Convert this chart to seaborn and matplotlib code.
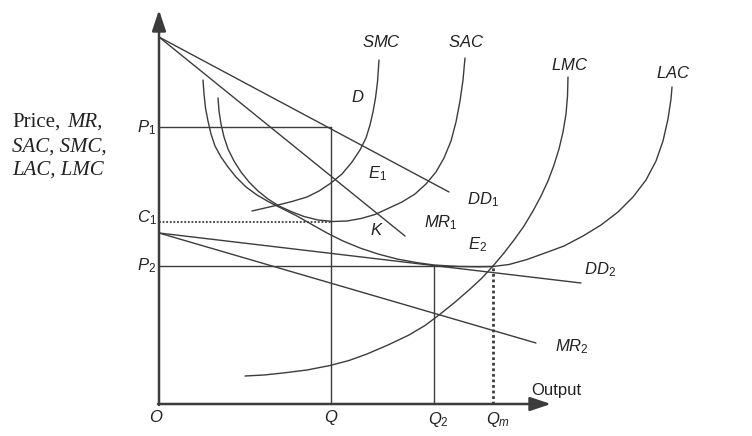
import matplotlib
matplotlib.use("Agg")
import matplotlib.pyplot as plt
import seaborn as sns

# quantities on the output axis
q1 = 17.2
q2 = 27.5
qm = 33.4

# price levels
p1 = 27.7
c1 = 18.2
p2 = 13.85

# demand / marginal revenue lines (end points)
dd1_x = [0, 29.0]
dd1_y = [36.7, 21.2]
mr1_x = [0, 24.6]
mr1_y = [36.7, 16.8]
dd2_x = [0, 42.2]
dd2_y = [17.1, 12.1]
mr2_x = [0, 37.7]
mr2_y = [17.1, 6.1]

# cost curves
sac_x = [5.9, 6.0, 6.2, 6.5, 6.9, 7.5, 8.2, 9.0, 9.9, 10.9, 12.0, 13.2, 14.5, 15.9, 17.4,
         18.8, 20.2, 21.6, 22.9, 24.3, 25.6, 26.7, 27.7, 28.5, 29.2, 29.7, 30.1, 30.4, 30.6]
sac_y = [30.6, 29.3, 28.0, 26.7, 25.5, 24.3, 23.2, 22.2, 21.3, 20.5, 19.8, 19.25, 18.75, 18.4, 18.25,
         18.3, 18.55, 18.95, 19.55, 20.2, 21.0, 22.0, 23.2, 24.6, 26.3, 28.2, 30.3, 32.4, 34.6]

smc_x = [9.3, 10.6, 11.9, 13.3, 14.8, 16.0, 17.2, 18.3, 19.3, 20.1, 20.7, 21.1, 21.4, 21.65, 21.85, 22.0]
smc_y = [19.3, 19.6, 19.9, 20.25, 20.7, 21.3, 22.1, 23.0, 24.2, 25.4, 26.6, 27.9, 29.2, 30.6, 32.2, 34.4]

lac_x = [4.4, 4.5, 4.65, 4.9, 5.2, 5.6, 6.2, 6.9, 7.7, 8.7, 9.8, 11.0, 12.3, 13.7, 15.2, 16.8, 18.4,
         20.1, 21.9, 23.8, 25.7, 27.5, 30.0, 32.0, 33.4, 35.0, 36.8, 38.6, 40.5, 42.4, 44.2, 45.9,
         47.4, 48.7, 49.7, 50.4, 50.9, 51.2, 51.3]
lac_y = [32.4, 31.0, 29.6, 28.3, 27.0, 25.8, 24.7, 23.7, 22.7, 21.7, 20.9, 20.2, 19.55, 18.85, 18.0, 17.1, 16.3,
         15.6, 15.0, 14.5, 14.15, 13.9, 13.75, 13.72, 13.75, 13.95, 14.45, 15.1, 15.8, 16.8, 17.9, 19.2,
         20.7, 22.4, 24.3, 26.3, 28.5, 30.5, 31.7]

lmc_x = [8.6, 10.5, 12.4, 14.8, 17.1, 19.0, 20.8, 22.9, 25.0, 26.6, 28.0, 29.5, 31.0, 32.3, 33.4,
         34.5, 35.5, 36.5, 37.4, 38.2, 38.9, 39.5, 40.0, 40.4, 40.7, 40.85, 40.9]
lmc_y = [2.8, 2.9, 3.1, 3.4, 3.85, 4.35, 5.0, 5.9, 6.9, 7.85, 8.9, 10.1, 11.4, 12.6, 13.8,
         15.1, 16.4, 17.8, 19.3, 20.8, 22.3, 23.9, 25.5, 27.2, 29.0, 30.8, 32.7]

sns.set_theme(style="white")
plt.rcParams.update({
    "mathtext.fontset": "custom",
    "mathtext.rm": "Liberation Sans",
    "mathtext.it": "Liberation Sans:italic",
    "font.family": ["Liberation Sans", "DejaVu Sans"],
})

ink = "#3c3c3c"

fig = plt.figure(figsize=(7.52, 4.36), dpi=100)
ax = fig.add_axes([0, 0, 1, 1])
ax.set_xlim(-15.9, 59.3)
ax.set_ylim(-3.2, 40.4)
ax.axis("off")


def draw(x, y, lw=1.0, **kw):
    sns.lineplot(x=x, y=y, sort=False, estimator=None, ax=ax, color=ink, lw=lw, **kw)


# curves
for xs, ys in [(dd1_x, dd1_y), (mr1_x, mr1_y), (dd2_x, dd2_y), (mr2_x, mr2_y),
               (sac_x, sac_y), (smc_x, smc_y), (lac_x, lac_y), (lmc_x, lmc_y)]:
    draw(xs, ys)

# guide lines
draw([0, q1], [p1, p1])
draw([q1, q1], [0, p1])
draw([0, q1], [c1, c1], linestyle=(0, (1, 1)), lw=1.3)
draw([0, qm], [p2, p2])
draw([q2, q2], [0, p2])
draw([qm, qm], [0, p2], linestyle=(0, (1, 1)), lw=2.0)

# axes with arrow heads
arrow = dict(arrowstyle="-|>,head_length=0.9,head_width=0.3", color=ink, lw=1.8,
             mutation_scale=14, shrinkA=0, shrinkB=0)
ax.annotate("", xy=(0, 39.4), xytext=(0, -0.1), arrowprops=arrow)
ax.annotate("", xy=(39.2, 0), xytext=(-0.1, 0), arrowprops=arrow)

lab = dict(fontsize=12, color="#222222", ha="center", va="center")
ax.text(22.3, 36.2, "$SMC$", **lab)
ax.text(30.7, 36.2, "$SAC$", **lab)
ax.text(41.1, 33.9, "$LMC$", **lab)
ax.text(51.4, 33.1, "$LAC$", **lab)
ax.text(19.9, 30.7, "$D$", **lab)
ax.text(21.8, 23.0, "$E_1$", **lab)
ax.text(32.4, 20.4, "$DD_1$", **lab)
ax.text(28.2, 18.1, "$MR_1$", **lab)
ax.text(21.8, 17.4, "$K$", **lab)
ax.text(31.9, 15.9, "$E_2$", **lab)
ax.text(44.1, 13.4, "$DD_2$", **lab)
ax.text(41.3, 5.7, "$MR_2$", **lab)
ax.text(39.7, 1.4, "Output", **lab)
ax.text(-0.3, -1.3, "$O$", **lab)
ax.text(q1, -1.3, "$Q$", **lab)
ax.text(q2 + 0.4, -1.5, "$Q_2$", **lab)
ax.text(qm + 0.5, -1.5, "$Q_m$", **lab)
ax.text(-1.3, p1 - 0.1, "$P_1$", **lab)
ax.text(-1.2, c1 + 0.4, "$C_1$", **lab)
ax.text(-1.2, p2, "$P_2$", **lab)

serif = dict(fontsize=15, color="#222222", family="Liberation Serif", va="center", ha="left")
ax.text(-14.7, 28.2, "Price,", **serif)
ax.text(-9.2, 28.2, "MR,", style="italic", **serif)
ax.text(-14.7, 25.7, "SAC, SMC,", style="italic", **serif)
ax.text(-14.7, 23.4, "LAC, LMC", style="italic", **serif)

fig.savefig("out.png", dpi=100)
